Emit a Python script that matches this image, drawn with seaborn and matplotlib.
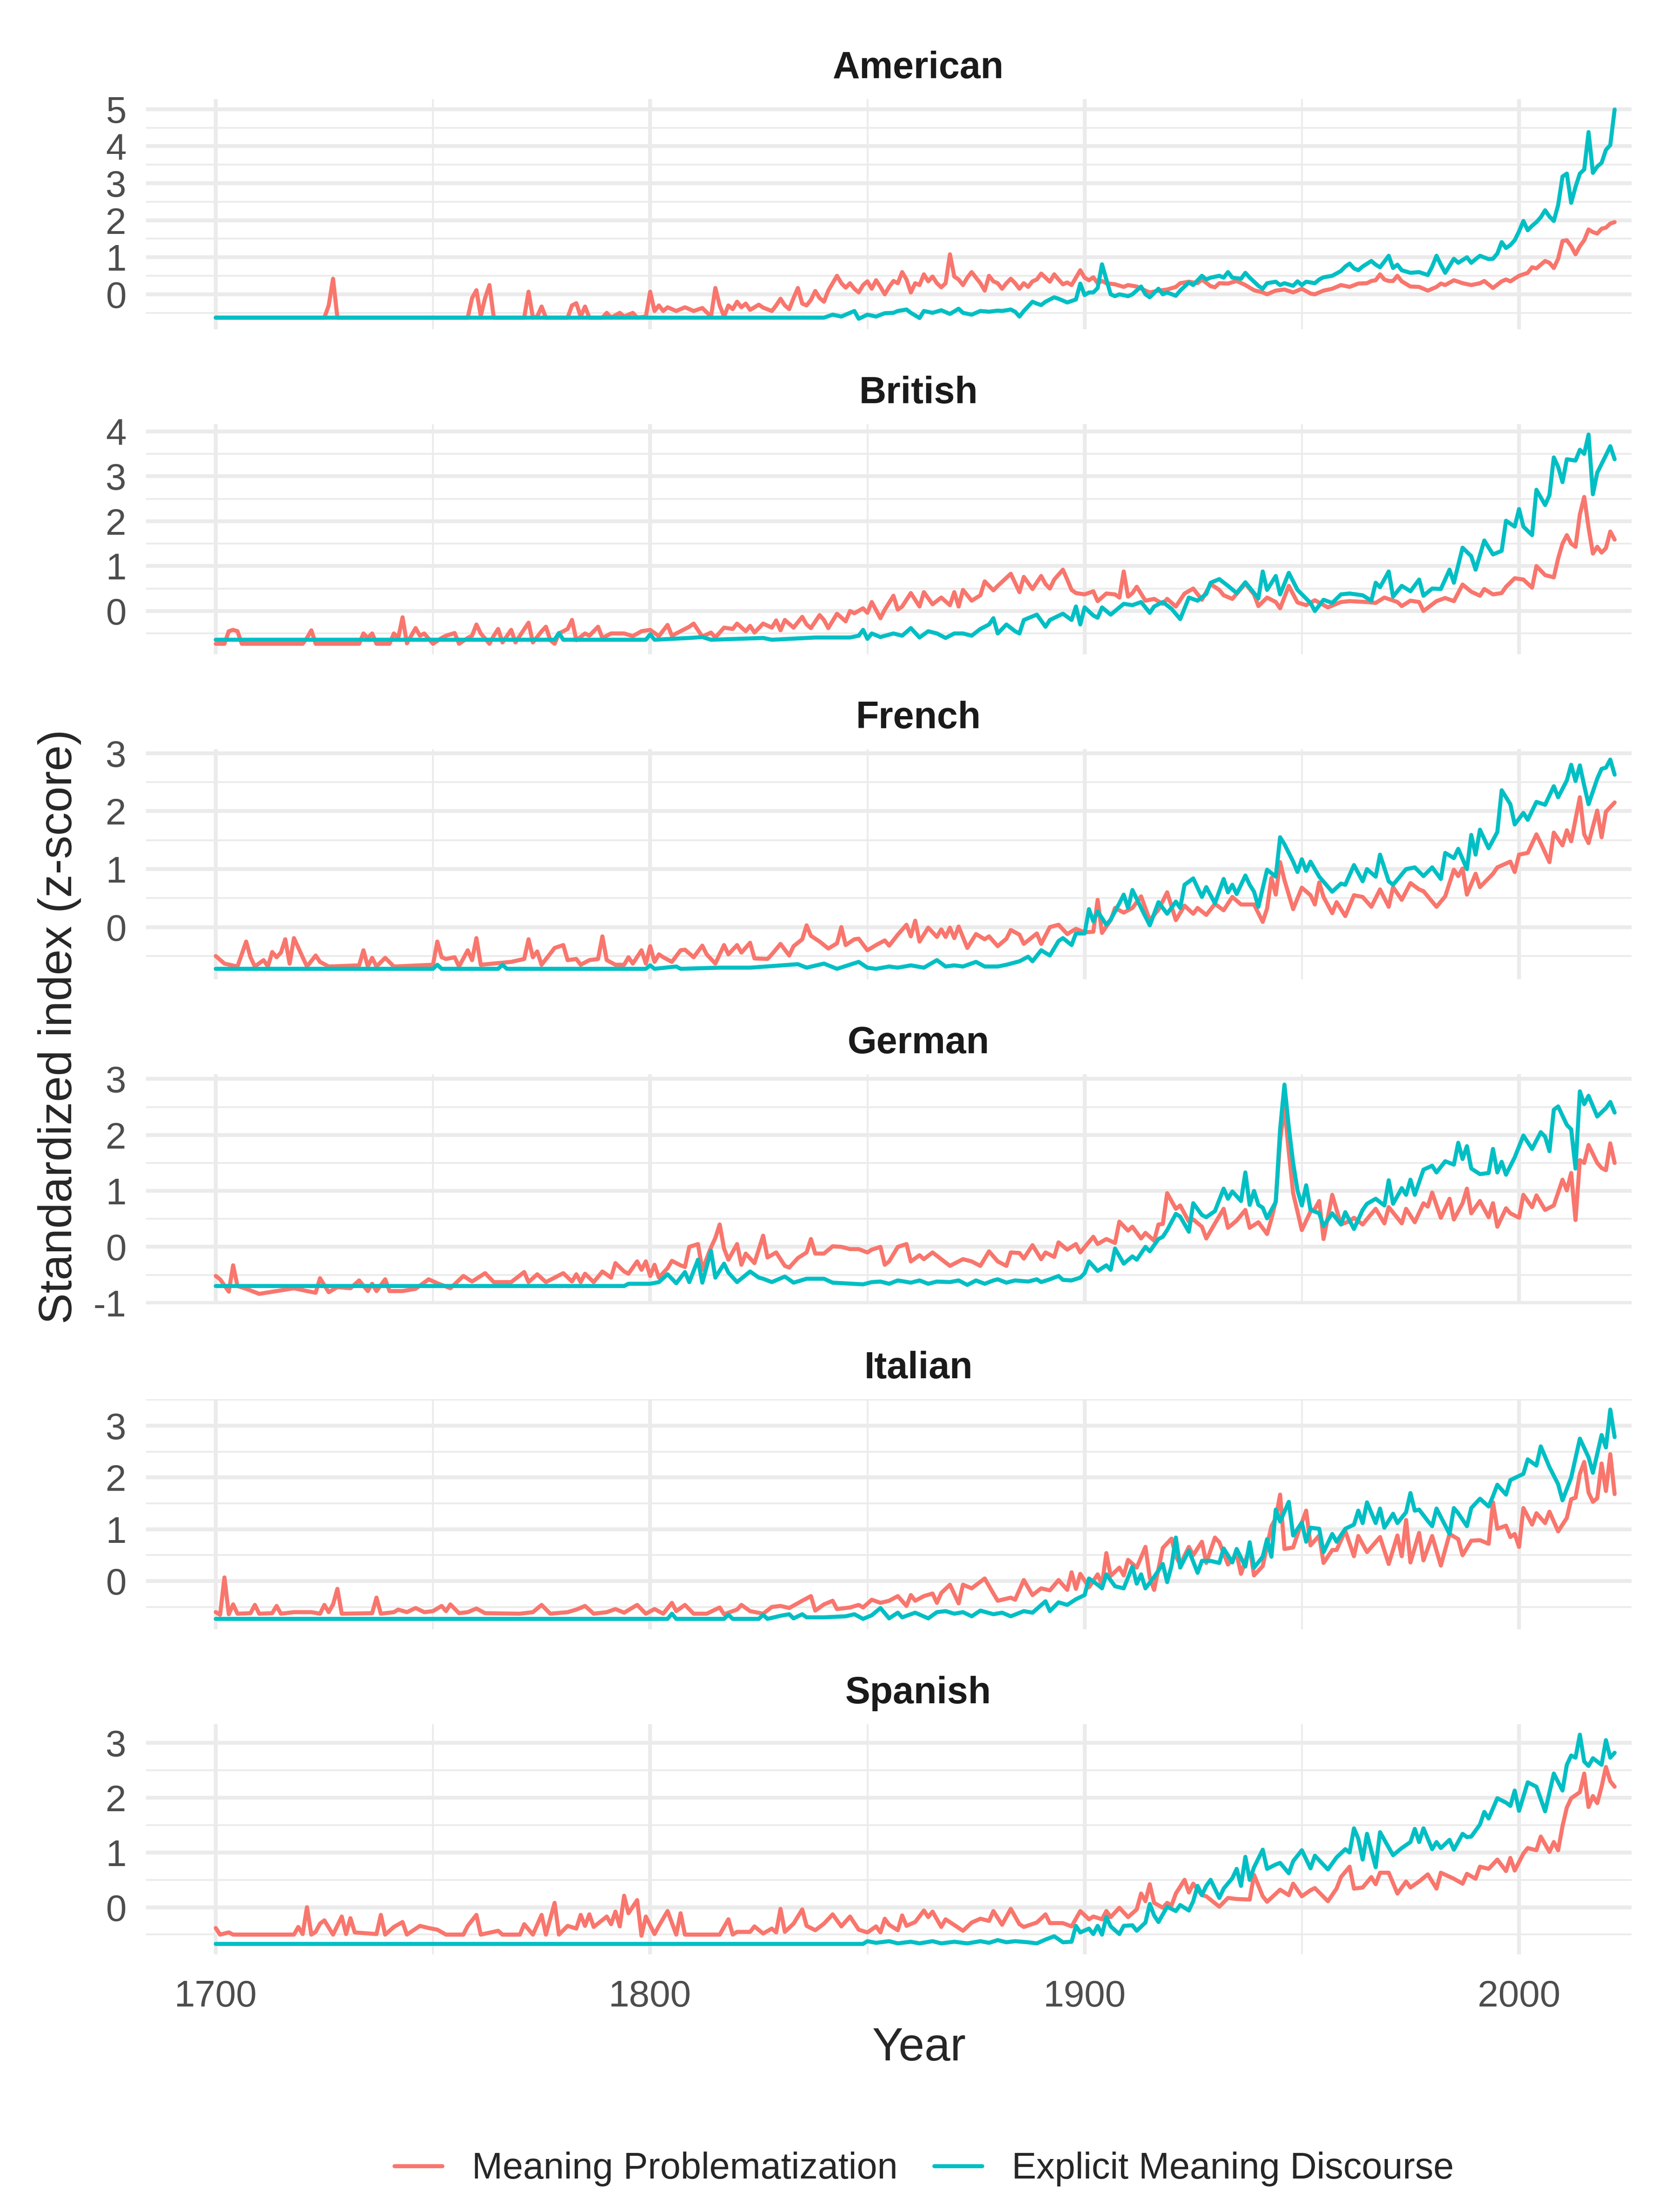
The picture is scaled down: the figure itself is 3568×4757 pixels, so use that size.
import matplotlib
matplotlib.use("Agg")
import matplotlib.pyplot as plt
from matplotlib.lines import Line2D
import pandas as pd
import seaborn as sns

# ── Canvas ────────────────────────────────────────────────────────────────────
W, H, DPI = 3568, 4757, 600

COUNTRIES = ["American", "British", "French", "German", "Italian", "Spanish"]
SERIES = ["Meaning Problematization", "Explicit Meaning Discourse"]
COLORS = ["#F8766D", "#00BFC4"]
X_TICKS = [1700, 1800, 1900, 2000]
X_MINOR = [1750, 1850, 1950]

# ── Data: (year, z-score) ────────────────────────────────────────────────────
AMERICAN_MP = [
    (1700, -0.63), (1725, -0.63), (1726, -0.3), (1727, 0.42), (1728, -0.63),
    (1758, -0.63), (1759, -0.1), (1760, 0.11), (1761, -0.58), (1762, -0.1),
    (1763, 0.25), (1764, -0.63), (1771, -0.63), (1772, 0.07), (1773, -0.63),
    (1774, -0.6), (1775, -0.33), (1776, -0.63), (1781, -0.63), (1782, -0.3),
    (1783, -0.24), (1784, -0.6), (1785, -0.33), (1786, -0.63), (1789, -0.63),
    (1790, -0.5), (1791, -0.63), (1793, -0.5), (1794, -0.6), (1796, -0.5),
    (1797, -0.63), (1799, -0.6), (1800, 0.07), (1801, -0.45), (1802, -0.3),
    (1803, -0.45), (1804, -0.35), (1806, -0.45), (1808, -0.35), (1810, -0.45),
    (1812, -0.37), (1814, -0.6), (1815, 0.17), (1816, -0.3), (1817, -0.6),
    (1818, -0.3), (1819, -0.4), (1820, -0.2), (1821, -0.35), (1822, -0.25),
    (1823, -0.42), (1825, -0.28), (1826, -0.36), (1828, -0.45), (1829, -0.3),
    (1830, -0.12), (1831, -0.3), (1832, -0.4), (1833, -0.1), (1834, 0.17),
    (1835, -0.25), (1836, -0.3), (1837, -0.15), (1838, 0.09), (1839, -0.1),
    (1840, -0.2), (1841, 0.1), (1842, 0.3), (1843, 0.5), (1844, 0.3),
    (1845, 0.18), (1846, 0.3), (1847, 0.15), (1848, 0.05), (1849, 0.25),
    (1850, 0.35), (1851, 0.15), (1852, 0.38), (1853, 0.2), (1854, 0.0),
    (1855, 0.2), (1856, 0.36), (1857, 0.3), (1858, 0.6), (1859, 0.4),
    (1860, 0.05), (1861, 0.3), (1862, 0.25), (1863, 0.54), (1864, 0.35),
    (1865, 0.48), (1866, 0.3), (1867, 0.19), (1868, 0.3), (1869, 1.08),
    (1870, 0.48), (1871, 0.4), (1872, 0.25), (1873, 0.45), (1874, 0.6),
    (1875, 0.45), (1876, 0.3), (1877, 0.1), (1878, 0.5), (1879, 0.35),
    (1880, 0.3), (1881, 0.15), (1882, 0.3), (1883, 0.42), (1884, 0.3),
    (1885, 0.15), (1886, 0.3), (1887, 0.2), (1888, 0.35), (1889, 0.4),
    (1890, 0.56), (1891, 0.45), (1892, 0.34), (1893, 0.54), (1894, 0.4),
    (1895, 0.27), (1896, 0.32), (1897, 0.25), (1898, 0.45), (1899, 0.65),
    (1900, 0.45), (1901, 0.38), (1902, 0.46), (1903, 0.3), (1904, 0.36),
    (1905, 0.3), (1907, 0.27), (1909, 0.2), (1910, 0.25), (1912, 0.21),
    (1914, 0.1), (1915, 0.05), (1917, 0.1), (1919, 0.13), (1921, 0.2),
    (1922, 0.3), (1924, 0.34), (1926, 0.3), (1927, 0.4), (1929, 0.22),
    (1930, 0.19), (1931, 0.3), (1933, 0.29), (1935, 0.36), (1937, 0.25),
    (1939, 0.11), (1941, 0.05), (1942, 0.0), (1944, 0.1), (1946, 0.13),
    (1948, 0.05), (1950, 0.15), (1952, 0.02), (1953, 0.0), (1955, 0.1),
    (1957, 0.15), (1959, 0.25), (1961, 0.2), (1963, 0.29), (1965, 0.3),
    (1966, 0.36), (1967, 0.38), (1968, 0.54), (1969, 0.4), (1970, 0.36),
    (1971, 0.36), (1972, 0.5), (1973, 0.35), (1975, 0.21), (1977, 0.2),
    (1979, 0.1), (1981, 0.2), (1982, 0.29), (1983, 0.25), (1985, 0.38),
    (1987, 0.3), (1989, 0.25), (1991, 0.3), (1992, 0.36), (1994, 0.17),
    (1996, 0.35), (1997, 0.4), (1998, 0.35), (2000, 0.5), (2002, 0.58),
    (2003, 0.73), (2004, 0.7), (2006, 0.9), (2007, 0.85), (2008, 0.71),
    (2009, 0.96), (2010, 1.44), (2011, 1.46), (2012, 1.3), (2013, 1.08),
    (2014, 1.3), (2015, 1.46), (2016, 1.75), (2017, 1.68), (2018, 1.64),
    (2019, 1.77), (2020, 1.8), (2021, 1.91), (2022, 1.95),
]
AMERICAN_ECD = [
    (1700, -0.63), (1840, -0.63), (1842, -0.55), (1844, -0.6), (1846, -0.5),
    (1847, -0.45), (1848, -0.66), (1850, -0.55), (1852, -0.6), (1854, -0.51),
    (1856, -0.5), (1857, -0.45), (1859, -0.41), (1860, -0.5), (1862, -0.64),
    (1863, -0.45), (1865, -0.5), (1867, -0.43), (1869, -0.53), (1871, -0.39),
    (1872, -0.5), (1874, -0.55), (1876, -0.45), (1878, -0.47), (1880, -0.44),
    (1881, -0.45), (1883, -0.41), (1884, -0.47), (1885, -0.6), (1886, -0.45),
    (1888, -0.2), (1889, -0.25), (1890, -0.29), (1891, -0.2), (1893, -0.08),
    (1894, -0.12), (1896, -0.22), (1897, -0.18), (1898, -0.14), (1899, 0.29),
    (1900, -0.02), (1901, 0.05), (1902, 0.05), (1903, 0.17), (1904, 0.81),
    (1905, 0.4), (1906, 0.0), (1907, -0.05), (1908, 0.0), (1910, -0.05),
    (1911, 0.0), (1913, 0.21), (1914, 0.0), (1915, -0.08), (1917, 0.15),
    (1918, 0.0), (1919, 0.05), (1921, -0.04), (1922, 0.1), (1924, 0.32),
    (1925, 0.25), (1927, 0.5), (1928, 0.4), (1929, 0.45), (1931, 0.5),
    (1932, 0.45), (1933, 0.6), (1934, 0.45), (1936, 0.42), (1937, 0.58),
    (1938, 0.45), (1940, 0.23), (1941, 0.15), (1942, 0.3), (1944, 0.34),
    (1945, 0.25), (1946, 0.3), (1948, 0.23), (1949, 0.35), (1950, 0.25),
    (1951, 0.34), (1953, 0.3), (1954, 0.4), (1955, 0.46), (1957, 0.5),
    (1959, 0.63), (1960, 0.75), (1961, 0.83), (1962, 0.7), (1963, 0.65),
    (1964, 0.75), (1966, 0.9), (1967, 0.8), (1968, 0.73), (1970, 1.04),
    (1971, 0.71), (1972, 0.8), (1973, 0.65), (1975, 0.58), (1977, 0.6),
    (1979, 0.52), (1980, 0.75), (1981, 1.04), (1982, 0.8), (1983, 0.58),
    (1985, 0.96), (1986, 0.85), (1988, 1.0), (1989, 0.85), (1990, 0.95),
    (1991, 1.04), (1993, 0.95), (1994, 0.96), (1995, 1.1), (1996, 1.41),
    (1997, 1.25), (1998, 1.33), (1999, 1.46), (2000, 1.7), (2001, 1.98),
    (2002, 1.73), (2003, 1.85), (2004, 1.95), (2005, 2.08), (2006, 2.27),
    (2007, 2.1), (2008, 1.98), (2009, 2.41), (2010, 3.18), (2011, 3.26),
    (2012, 2.47), (2013, 2.9), (2014, 3.26), (2015, 3.37), (2016, 4.38),
    (2017, 3.28), (2018, 3.45), (2019, 3.55), (2020, 3.9), (2021, 4.03),
    (2022, 4.99),
]

BRITISH_MP = [
    (1700, -0.73), (1702, -0.73), (1703, -0.45), (1704, -0.42), (1705, -0.45),
    (1706, -0.73), (1720, -0.73), (1721, -0.6), (1722, -0.43), (1723, -0.73),
    (1733, -0.73), (1734, -0.5), (1735, -0.6), (1736, -0.5), (1737, -0.73),
    (1740, -0.73), (1741, -0.5), (1742, -0.6), (1743, -0.14), (1744, -0.72),
    (1745, -0.55), (1746, -0.38), (1747, -0.55), (1748, -0.5), (1750, -0.73),
    (1752, -0.6), (1753, -0.55), (1755, -0.49), (1756, -0.73), (1758, -0.6),
    (1759, -0.55), (1760, -0.3), (1761, -0.5), (1763, -0.73), (1764, -0.55),
    (1765, -0.4), (1766, -0.7), (1768, -0.42), (1769, -0.7), (1770, -0.55),
    (1772, -0.26), (1773, -0.7), (1775, -0.45), (1776, -0.35), (1777, -0.65),
    (1778, -0.73), (1779, -0.5), (1781, -0.4), (1782, -0.2), (1783, -0.65),
    (1785, -0.5), (1786, -0.55), (1788, -0.35), (1789, -0.6), (1791, -0.5),
    (1794, -0.5), (1796, -0.56), (1798, -0.45), (1800, -0.42), (1802, -0.56),
    (1804, -0.31), (1805, -0.55), (1807, -0.45), (1809, -0.35), (1810, -0.28),
    (1812, -0.57), (1814, -0.48), (1815, -0.59), (1817, -0.37), (1819, -0.4),
    (1820, -0.28), (1822, -0.45), (1823, -0.33), (1824, -0.48), (1826, -0.28),
    (1828, -0.37), (1829, -0.21), (1830, -0.43), (1831, -0.2), (1833, -0.37),
    (1835, -0.13), (1836, -0.3), (1837, -0.38), (1839, -0.09), (1840, -0.2),
    (1841, -0.38), (1843, -0.06), (1845, -0.23), (1846, 0.0), (1847, -0.05),
    (1849, 0.06), (1850, -0.04), (1851, 0.2), (1853, -0.16), (1854, 0.03),
    (1856, 0.34), (1857, 0.03), (1858, 0.1), (1860, 0.4), (1862, 0.1),
    (1863, 0.42), (1865, 0.15), (1867, 0.3), (1869, 0.13), (1870, 0.42),
    (1871, 0.1), (1872, 0.47), (1874, 0.23), (1876, 0.35), (1877, 0.66),
    (1879, 0.46), (1880, 0.56), (1883, 0.83), (1885, 0.42), (1886, 0.76),
    (1888, 0.49), (1890, 0.78), (1891, 0.6), (1892, 0.5), (1893, 0.7),
    (1895, 0.92), (1896, 0.7), (1897, 0.47), (1898, 0.4), (1900, 0.37),
    (1902, 0.44), (1903, 0.22), (1905, 0.39), (1907, 0.37), (1908, 0.3),
    (1909, 0.88), (1910, 0.32), (1911, 0.4), (1912, 0.54), (1914, 0.23),
    (1916, 0.27), (1918, 0.16), (1919, 0.27), (1921, 0.1), (1923, 0.39),
    (1925, 0.5), (1927, 0.25), (1929, 0.6), (1931, 0.47), (1932, 0.35),
    (1934, 0.27), (1937, 0.61), (1939, 0.37), (1940, 0.11), (1942, 0.3),
    (1944, 0.2), (1945, 0.06), (1947, 0.56), (1949, 0.19), (1951, 0.13),
    (1953, 0.24), (1956, 0.08), (1959, 0.2), (1961, 0.22), (1965, 0.2),
    (1967, 0.18), (1969, 0.3), (1972, 0.2), (1973, 0.11), (1975, 0.23),
    (1977, 0.2), (1978, 0.0), (1981, 0.22), (1983, 0.29), (1985, 0.22),
    (1987, 0.59), (1989, 0.43), (1991, 0.34), (1992, 0.49), (1994, 0.37),
    (1996, 0.4), (1997, 0.54), (1999, 0.73), (2001, 0.7), (2003, 0.52),
    (2004, 1.0), (2006, 0.8), (2008, 0.75), (2009, 1.17), (2010, 1.5),
    (2011, 1.69), (2012, 1.5), (2013, 1.43), (2014, 2.15), (2015, 2.54),
    (2016, 1.86), (2017, 1.28), (2018, 1.43), (2019, 1.3), (2020, 1.4),
    (2021, 1.77), (2022, 1.59),
]
BRITISH_ECD = [
    (1700, -0.64), (1778, -0.64), (1779, -0.49), (1780, -0.64), (1799, -0.64),
    (1800, -0.52), (1801, -0.64), (1809, -0.6), (1812, -0.58), (1814, -0.64),
    (1826, -0.6), (1828, -0.64), (1838, -0.59), (1846, -0.59), (1848, -0.55),
    (1849, -0.42), (1850, -0.62), (1851, -0.5), (1853, -0.58), (1856, -0.5),
    (1858, -0.55), (1860, -0.38), (1862, -0.59), (1864, -0.45), (1866, -0.5),
    (1868, -0.6), (1870, -0.5), (1872, -0.5), (1874, -0.55), (1876, -0.4),
    (1878, -0.3), (1879, -0.16), (1880, -0.5), (1882, -0.3), (1884, -0.45),
    (1885, -0.5), (1886, -0.2), (1889, -0.08), (1891, -0.35), (1892, -0.2),
    (1895, -0.06), (1897, -0.2), (1898, 0.1), (1899, -0.3), (1900, 0.08),
    (1902, -0.1), (1903, -0.15), (1904, 0.08), (1906, -0.08), (1909, 0.16),
    (1911, 0.13), (1913, 0.2), (1915, -0.04), (1916, 0.1), (1918, 0.2),
    (1920, 0.05), (1922, -0.18), (1924, 0.3), (1926, 0.23), (1928, 0.38),
    (1929, 0.63), (1931, 0.71), (1933, 0.56), (1935, 0.4), (1937, 0.64),
    (1940, 0.28), (1941, 0.88), (1942, 0.47), (1944, 0.78), (1945, 0.37),
    (1947, 0.85), (1949, 0.47), (1952, 0.18), (1953, 0.0), (1955, 0.25),
    (1957, 0.18), (1959, 0.37), (1961, 0.39), (1964, 0.35), (1966, 0.23),
    (1967, 0.63), (1968, 0.53), (1970, 0.88), (1971, 0.32), (1973, 0.56),
    (1975, 0.44), (1977, 0.7), (1978, 0.34), (1980, 0.5), (1982, 0.49),
    (1984, 0.92), (1985, 0.63), (1987, 1.41), (1989, 1.22), (1990, 0.92),
    (1992, 1.57), (1994, 1.26), (1996, 1.34), (1997, 2.01), (1999, 1.88),
    (2000, 2.27), (2001, 1.88), (2003, 1.69), (2004, 2.7), (2006, 2.36),
    (2007, 2.58), (2008, 3.42), (2009, 3.21), (2010, 2.87), (2011, 3.38),
    (2013, 3.35), (2014, 3.59), (2015, 3.5), (2016, 3.93), (2017, 2.6),
    (2018, 3.08), (2020, 3.47), (2021, 3.67), (2022, 3.38),
]

FRENCH_MP = [
    (1700, -0.5), (1702, -0.63), (1705, -0.68), (1707, -0.25), (1708, -0.52),
    (1709, -0.68), (1711, -0.57), (1712, -0.68), (1713, -0.43), (1714, -0.52),
    (1715, -0.44), (1716, -0.21), (1717, -0.63), (1718, -0.19), (1720, -0.52),
    (1721, -0.68), (1723, -0.49), (1724, -0.6), (1726, -0.68), (1733, -0.66),
    (1734, -0.4), (1735, -0.68), (1736, -0.53), (1737, -0.68), (1739, -0.53),
    (1741, -0.68), (1750, -0.65), (1751, -0.25), (1752, -0.52), (1753, -0.55),
    (1755, -0.52), (1756, -0.68), (1758, -0.4), (1759, -0.57), (1760, -0.19),
    (1761, -0.65), (1768, -0.6), (1771, -0.55), (1772, -0.21), (1773, -0.52),
    (1774, -0.42), (1775, -0.65), (1778, -0.36), (1780, -0.31), (1781, -0.57),
    (1783, -0.55), (1784, -0.65), (1786, -0.57), (1788, -0.55), (1789, -0.16),
    (1790, -0.57), (1792, -0.65), (1794, -0.65), (1795, -0.52), (1796, -0.63),
    (1798, -0.4), (1799, -0.63), (1800, -0.33), (1801, -0.6), (1802, -0.47),
    (1803, -0.52), (1805, -0.6), (1807, -0.4), (1808, -0.39), (1810, -0.52),
    (1812, -0.32), (1813, -0.47), (1815, -0.63), (1817, -0.31), (1818, -0.47),
    (1820, -0.31), (1821, -0.44), (1823, -0.27), (1824, -0.54), (1827, -0.55),
    (1828, -0.47), (1830, -0.29), (1832, -0.49), (1833, -0.33), (1835, -0.21),
    (1836, 0.03), (1837, -0.15), (1839, -0.25), (1841, -0.37), (1843, -0.28),
    (1844, 0.0), (1845, -0.31), (1847, -0.21), (1848, -0.2), (1850, -0.4),
    (1852, -0.31), (1854, -0.23), (1855, -0.32), (1857, -0.13), (1859, 0.04),
    (1860, -0.16), (1861, 0.11), (1862, -0.25), (1864, -0.01), (1866, -0.17),
    (1867, -0.04), (1868, -0.17), (1869, -0.01), (1870, -0.19), (1871, 0.01),
    (1873, -0.36), (1875, -0.12), (1877, -0.21), (1878, -0.16), (1880, -0.33),
    (1882, -0.2), (1883, -0.05), (1885, -0.13), (1886, -0.29), (1889, -0.11),
    (1890, -0.29), (1892, 0.0), (1894, 0.04), (1896, -0.12), (1898, -0.03),
    (1900, -0.09), (1902, -0.08), (1903, 0.47), (1904, -0.1), (1906, 0.12),
    (1907, 0.33), (1909, 0.25), (1911, 0.33), (1913, 0.53), (1915, 0.12),
    (1917, 0.3), (1919, 0.6), (1921, 0.12), (1923, 0.37), (1925, 0.23),
    (1926, 0.33), (1928, 0.21), (1930, 0.4), (1932, 0.29), (1934, 0.52),
    (1936, 0.39), (1939, 0.39), (1941, 0.09), (1942, 0.32), (1943, 0.85),
    (1944, 0.56), (1945, 1.12), (1946, 0.81), (1948, 0.31), (1950, 0.68),
    (1952, 0.55), (1953, 0.39), (1954, 0.77), (1955, 0.52), (1957, 0.24),
    (1958, 0.43), (1960, 0.19), (1962, 0.55), (1964, 0.52), (1966, 0.35),
    (1968, 0.65), (1970, 0.35), (1971, 0.69), (1973, 0.47), (1975, 0.76),
    (1977, 0.65), (1978, 0.62), (1981, 0.35), (1983, 0.53), (1985, 0.99),
    (1986, 0.88), (1987, 1.01), (1988, 0.56), (1990, 0.92), (1991, 0.69),
    (1994, 0.92), (1995, 1.03), (1998, 1.13), (1999, 0.95), (2000, 1.25),
    (2002, 1.28), (2004, 1.6), (2005, 1.45), (2007, 1.12), (2008, 1.63),
    (2010, 1.41), (2011, 1.67), (2012, 1.48), (2014, 2.24), (2015, 1.6),
    (2016, 1.45), (2018, 2.01), (2019, 1.55), (2020, 1.99), (2022, 2.15),
]
FRENCH_ECD = [
    (1700, -0.72), (1750, -0.72), (1751, -0.65), (1752, -0.72), (1765, -0.72),
    (1766, -0.65), (1767, -0.72), (1799, -0.72), (1800, -0.66), (1801, -0.72),
    (1806, -0.68), (1807, -0.72), (1816, -0.7), (1823, -0.7), (1834, -0.64),
    (1836, -0.7), (1840, -0.63), (1843, -0.72), (1848, -0.6), (1850, -0.7),
    (1852, -0.72), (1855, -0.68), (1857, -0.7), (1860, -0.66), (1863, -0.7),
    (1866, -0.57), (1868, -0.68), (1870, -0.66), (1872, -0.68), (1875, -0.6),
    (1877, -0.68), (1880, -0.68), (1882, -0.65), (1885, -0.59), (1887, -0.51),
    (1888, -0.59), (1890, -0.4), (1892, -0.49), (1894, -0.24), (1895, -0.19),
    (1897, -0.31), (1898, -0.11), (1900, -0.11), (1901, 0.31), (1902, 0.1),
    (1903, 0.27), (1905, 0.04), (1906, 0.13), (1908, 0.41), (1909, 0.56),
    (1910, 0.33), (1911, 0.64), (1913, 0.33), (1915, 0.03), (1917, 0.43),
    (1919, 0.23), (1921, 0.44), (1922, 0.33), (1923, 0.73), (1925, 0.84),
    (1927, 0.52), (1928, 0.69), (1930, 0.41), (1932, 0.83), (1933, 0.6),
    (1934, 0.73), (1935, 0.57), (1937, 0.89), (1938, 0.73), (1939, 0.61),
    (1940, 0.35), (1942, 0.99), (1944, 0.87), (1945, 1.55), (1946, 1.43),
    (1948, 1.13), (1949, 0.95), (1950, 1.17), (1951, 0.97), (1952, 1.13),
    (1954, 0.87), (1957, 0.61), (1959, 0.75), (1960, 0.73), (1962, 1.07),
    (1964, 0.79), (1965, 1.0), (1967, 0.87), (1968, 1.25), (1970, 0.79),
    (1971, 0.73), (1974, 1.0), (1976, 1.03), (1978, 0.88), (1980, 1.03),
    (1982, 0.83), (1983, 1.28), (1985, 1.19), (1986, 1.35), (1988, 1.0),
    (1989, 1.59), (1990, 1.25), (1991, 1.68), (1993, 1.36), (1995, 1.64),
    (1996, 2.36), (1998, 2.12), (1999, 1.77), (2001, 1.97), (2002, 1.85),
    (2004, 2.16), (2006, 2.11), (2008, 2.43), (2009, 2.24), (2011, 2.53),
    (2012, 2.8), (2013, 2.52), (2014, 2.79), (2015, 2.44), (2016, 2.12),
    (2018, 2.56), (2019, 2.73), (2020, 2.75), (2021, 2.89), (2022, 2.63),
]

GERMAN_MP = [
    (1700, -0.52), (1701, -0.58), (1703, -0.8), (1704, -0.33), (1705, -0.7),
    (1707, -0.75), (1710, -0.84), (1714, -0.79), (1718, -0.74), (1721, -0.79),
    (1723, -0.82), (1724, -0.56), (1726, -0.81), (1728, -0.72), (1731, -0.74),
    (1733, -0.6), (1735, -0.79), (1736, -0.66), (1737, -0.79), (1739, -0.58),
    (1740, -0.79), (1743, -0.79), (1746, -0.75), (1749, -0.58), (1751, -0.65),
    (1754, -0.74), (1757, -0.52), (1759, -0.62), (1762, -0.47), (1764, -0.63),
    (1766, -0.63), (1768, -0.63), (1771, -0.45), (1772, -0.63), (1774, -0.49),
    (1776, -0.63), (1778, -0.55), (1780, -0.47), (1782, -0.62), (1783, -0.49),
    (1784, -0.63), (1785, -0.48), (1787, -0.63), (1789, -0.44), (1791, -0.55),
    (1792, -0.29), (1794, -0.44), (1795, -0.48), (1797, -0.26), (1798, -0.41),
    (1799, -0.26), (1800, -0.52), (1801, -0.32), (1802, -0.55), (1804, -0.38),
    (1805, -0.25), (1807, -0.33), (1808, -0.36), (1809, 0.0), (1811, 0.05),
    (1812, -0.41), (1814, -0.01), (1815, 0.16), (1816, 0.4), (1817, -0.03),
    (1818, -0.23), (1820, 0.05), (1821, -0.32), (1822, -0.12), (1824, -0.29),
    (1826, 0.2), (1827, -0.19), (1829, -0.1), (1831, -0.34), (1832, -0.37),
    (1834, -0.2), (1836, -0.1), (1837, 0.14), (1838, -0.12), (1840, -0.12),
    (1842, 0.01), (1844, 0.0), (1846, -0.04), (1848, -0.04), (1850, -0.1),
    (1851, -0.05), (1853, 0.0), (1854, -0.32), (1855, -0.26), (1857, 0.0),
    (1859, 0.05), (1860, -0.26), (1862, -0.15), (1863, -0.22), (1865, -0.1),
    (1869, -0.34), (1872, -0.22), (1874, -0.26), (1876, -0.34), (1878, -0.08),
    (1880, -0.26), (1882, -0.34), (1883, -0.1), (1885, -0.11), (1886, -0.21),
    (1888, 0.03), (1890, -0.22), (1891, -0.1), (1893, -0.18), (1894, 0.08),
    (1896, -0.05), (1898, 0.05), (1899, -0.1), (1902, 0.18), (1903, 0.05),
    (1905, 0.14), (1907, 0.07), (1908, 0.45), (1910, 0.29), (1911, 0.36),
    (1913, 0.15), (1914, 0.25), (1916, 0.11), (1917, 0.4), (1918, 0.41),
    (1919, 0.96), (1921, 0.68), (1922, 0.74), (1924, 0.45), (1925, 0.49),
    (1927, 0.36), (1928, 0.15), (1930, 0.42), (1932, 0.68), (1933, 0.34),
    (1935, 0.47), (1937, 0.66), (1938, 0.34), (1940, 0.44), (1942, 0.23),
    (1943, 0.5), (1944, 0.82), (1945, 1.9), (1946, 2.5), (1947, 1.7),
    (1948, 0.96), (1950, 0.3), (1952, 0.63), (1953, 0.68), (1954, 0.82),
    (1955, 0.14), (1957, 0.93), (1959, 0.4), (1961, 0.46), (1962, 0.52),
    (1964, 0.4), (1966, 0.59), (1967, 0.68), (1969, 0.42), (1970, 0.71),
    (1973, 0.42), (1974, 0.68), (1976, 0.44), (1978, 0.78), (1979, 0.72),
    (1980, 0.97), (1982, 0.52), (1984, 0.86), (1985, 0.49), (1987, 0.78),
    (1988, 1.04), (1989, 0.6), (1991, 0.82), (1993, 0.53), (1994, 0.78),
    (1995, 0.36), (1997, 0.69), (1998, 0.6), (2000, 0.52), (2001, 0.93),
    (2003, 0.71), (2004, 0.92), (2006, 0.66), (2008, 0.74), (2010, 1.2),
    (2011, 1.01), (2012, 1.32), (2013, 0.48), (2014, 1.55), (2015, 1.5),
    (2016, 1.82), (2018, 1.5), (2019, 1.41), (2020, 1.37), (2021, 1.85),
    (2022, 1.5),
]
GERMAN_ECD = [
    (1700, -0.7), (1794, -0.7), (1795, -0.66), (1800, -0.66), (1802, -0.63),
    (1804, -0.49), (1806, -0.65), (1808, -0.45), (1809, -0.63), (1811, -0.23),
    (1812, -0.64), (1814, -0.07), (1815, -0.55), (1817, -0.3), (1818, -0.46),
    (1820, -0.63), (1823, -0.44), (1825, -0.55), (1826, -0.57), (1828, -0.63),
    (1831, -0.53), (1833, -0.64), (1836, -0.57), (1840, -0.57), (1842, -0.64),
    (1849, -0.67), (1851, -0.63), (1853, -0.62), (1855, -0.66), (1857, -0.6),
    (1860, -0.64), (1862, -0.6), (1864, -0.66), (1866, -0.62), (1869, -0.63),
    (1871, -0.6), (1873, -0.68), (1875, -0.6), (1877, -0.66), (1879, -0.6),
    (1880, -0.58), (1882, -0.64), (1884, -0.6), (1887, -0.62), (1889, -0.58),
    (1890, -0.63), (1892, -0.58), (1894, -0.52), (1895, -0.59), (1897, -0.6),
    (1899, -0.55), (1900, -0.47), (1901, -0.26), (1903, -0.43), (1905, -0.33),
    (1906, -0.41), (1907, -0.03), (1909, -0.3), (1911, -0.17), (1912, -0.23),
    (1914, 0.0), (1915, -0.08), (1917, 0.14), (1918, 0.18), (1919, 0.3),
    (1921, 0.59), (1922, 0.54), (1924, 0.27), (1925, 0.78), (1927, 0.57),
    (1928, 0.53), (1930, 0.64), (1932, 1.04), (1933, 0.86), (1934, 0.99),
    (1936, 0.82), (1937, 1.33), (1938, 0.75), (1939, 1.0), (1940, 0.75),
    (1941, 0.7), (1942, 0.51), (1943, 0.66), (1944, 0.8), (1945, 2.1),
    (1946, 2.9), (1947, 2.14), (1948, 1.5), (1949, 1.01), (1950, 0.74),
    (1951, 1.1), (1952, 0.66), (1954, 0.6), (1955, 0.37), (1957, 0.6),
    (1959, 0.4), (1960, 0.62), (1962, 0.32), (1964, 0.66), (1965, 0.77),
    (1967, 0.86), (1969, 0.74), (1970, 1.19), (1971, 0.77), (1973, 1.05),
    (1974, 0.93), (1975, 1.2), (1976, 0.93), (1978, 1.38), (1980, 1.45),
    (1981, 1.33), (1983, 1.53), (1985, 1.47), (1986, 1.86), (1987, 1.57),
    (1988, 1.8), (1989, 1.4), (1991, 1.3), (1993, 1.32), (1994, 1.75),
    (1995, 1.33), (1996, 1.52), (1997, 1.29), (1999, 1.6), (2001, 1.99),
    (2003, 1.75), (2005, 2.05), (2006, 1.97), (2007, 1.71), (2008, 2.45),
    (2009, 2.51), (2011, 2.18), (2012, 2.1), (2013, 1.4), (2014, 2.78),
    (2015, 2.55), (2016, 2.7), (2018, 2.33), (2020, 2.48), (2021, 2.59),
    (2022, 2.4),
]

ITALIAN_MP = [
    (1700, -0.6), (1701, -0.65), (1702, 0.07), (1703, -0.64), (1704, -0.45),
    (1705, -0.63), (1708, -0.62), (1709, -0.46), (1710, -0.63), (1713, -0.62),
    (1714, -0.48), (1715, -0.63), (1718, -0.6), (1722, -0.6), (1724, -0.63),
    (1725, -0.46), (1726, -0.6), (1727, -0.45), (1728, -0.15), (1729, -0.63),
    (1736, -0.62), (1737, -0.32), (1738, -0.63), (1741, -0.6), (1742, -0.55),
    (1744, -0.6), (1746, -0.52), (1748, -0.6), (1750, -0.58), (1752, -0.48),
    (1753, -0.58), (1754, -0.45), (1756, -0.62), (1758, -0.6), (1760, -0.53),
    (1762, -0.62), (1770, -0.63), (1773, -0.6), (1774, -0.53), (1775, -0.46),
    (1777, -0.63), (1781, -0.6), (1783, -0.55), (1785, -0.48), (1787, -0.63),
    (1790, -0.6), (1792, -0.54), (1794, -0.61), (1797, -0.46), (1799, -0.63),
    (1801, -0.54), (1803, -0.63), (1805, -0.42), (1806, -0.58), (1808, -0.46),
    (1810, -0.63), (1813, -0.63), (1816, -0.51), (1817, -0.64), (1820, -0.55),
    (1821, -0.46), (1823, -0.58), (1826, -0.63), (1828, -0.5), (1830, -0.48),
    (1832, -0.52), (1835, -0.38), (1837, -0.29), (1838, -0.57), (1840, -0.45),
    (1842, -0.38), (1843, -0.54), (1846, -0.51), (1848, -0.46), (1849, -0.51),
    (1851, -0.36), (1853, -0.42), (1855, -0.38), (1857, -0.29), (1859, -0.48),
    (1860, -0.27), (1861, -0.38), (1863, -0.29), (1865, -0.24), (1866, -0.42),
    (1867, -0.23), (1869, -0.07), (1871, -0.43), (1872, -0.07), (1874, -0.14),
    (1877, 0.05), (1879, -0.24), (1880, -0.38), (1883, -0.32), (1884, -0.36),
    (1886, 0.02), (1888, -0.27), (1890, -0.14), (1892, -0.18), (1894, 0.02),
    (1896, -0.17), (1897, 0.17), (1898, -0.15), (1899, 0.14), (1901, -0.12),
    (1903, 0.13), (1904, -0.07), (1905, 0.54), (1906, 0.1), (1908, 0.26),
    (1909, 0.11), (1910, 0.41), (1912, 0.26), (1914, 0.66), (1915, 0.07),
    (1916, -0.17), (1918, 0.64), (1920, 0.82), (1921, 0.48), (1922, 0.32),
    (1924, 0.66), (1925, 0.5), (1927, 0.76), (1928, 0.35), (1930, 0.84),
    (1931, 0.75), (1933, 0.32), (1935, 0.52), (1936, 0.14), (1938, 0.64),
    (1939, 0.11), (1941, 0.29), (1942, 0.68), (1943, 1.06), (1944, 1.21),
    (1945, 1.67), (1946, 0.62), (1948, 0.65), (1949, 0.9), (1951, 1.36),
    (1952, 0.69), (1954, 0.88), (1955, 0.35), (1957, 0.6), (1958, 0.6),
    (1960, 0.97), (1962, 0.48), (1963, 0.87), (1965, 0.56), (1968, 0.85),
    (1970, 0.33), (1972, 0.88), (1973, 0.48), (1974, 1.18), (1975, 0.36),
    (1977, 0.93), (1978, 0.4), (1980, 0.87), (1982, 0.3), (1984, 0.91),
    (1986, 0.81), (1987, 0.5), (1989, 0.78), (1991, 0.79), (1993, 0.72),
    (1994, 1.52), (1995, 1.01), (1997, 1.07), (1998, 0.85), (1999, 0.91),
    (2000, 0.66), (2001, 1.41), (2003, 1.09), (2004, 1.31), (2006, 1.12),
    (2007, 1.34), (2008, 1.15), (2009, 0.96), (2011, 1.22), (2012, 1.58),
    (2013, 1.61), (2014, 2.07), (2015, 2.3), (2016, 1.71), (2017, 1.53),
    (2018, 1.6), (2019, 2.27), (2020, 1.74), (2021, 2.45), (2022, 1.68),
]
ITALIAN_ECD = [
    (1700, -0.73), (1804, -0.73), (1805, -0.63), (1806, -0.73), (1817, -0.73),
    (1818, -0.65), (1819, -0.73), (1825, -0.73), (1826, -0.65), (1827, -0.73),
    (1830, -0.67), (1832, -0.64), (1833, -0.72), (1835, -0.64), (1836, -0.7),
    (1840, -0.7), (1845, -0.68), (1847, -0.64), (1849, -0.73), (1851, -0.66),
    (1853, -0.52), (1855, -0.72), (1857, -0.61), (1858, -0.7), (1861, -0.61),
    (1864, -0.72), (1866, -0.6), (1868, -0.58), (1870, -0.63), (1872, -0.6),
    (1874, -0.68), (1876, -0.57), (1879, -0.64), (1881, -0.61), (1883, -0.68),
    (1886, -0.58), (1888, -0.61), (1891, -0.39), (1892, -0.58), (1894, -0.41),
    (1896, -0.46), (1898, -0.35), (1900, -0.27), (1901, 0.05), (1903, -0.07),
    (1904, -0.14), (1905, 0.13), (1907, -0.1), (1909, -0.14), (1911, 0.28),
    (1912, -0.05), (1913, 0.13), (1914, -0.14), (1916, 0.08), (1918, 0.33),
    (1919, -0.02), (1920, 0.29), (1921, 0.84), (1922, 0.26), (1924, 0.59),
    (1926, 0.16), (1927, 0.39), (1929, 0.39), (1931, 0.35), (1932, 0.63),
    (1934, 0.36), (1935, 0.62), (1937, 0.28), (1938, 0.75), (1939, 0.26),
    (1941, 0.47), (1942, 0.81), (1943, 0.47), (1944, 1.38), (1945, 1.15),
    (1947, 1.53), (1948, 0.88), (1950, 1.13), (1951, 0.76), (1952, 1.03),
    (1954, 1.01), (1955, 0.56), (1957, 0.91), (1958, 0.76), (1960, 1.01),
    (1962, 1.09), (1963, 1.36), (1964, 1.12), (1965, 1.52), (1967, 1.12),
    (1968, 1.4), (1969, 1.03), (1971, 1.3), (1972, 1.12), (1974, 1.33),
    (1975, 1.7), (1976, 1.36), (1977, 1.38), (1979, 1.16), (1980, 1.06),
    (1981, 1.4), (1984, 0.91), (1985, 1.41), (1986, 1.31), (1988, 1.06),
    (1989, 1.41), (1991, 1.59), (1993, 1.44), (1994, 1.64), (1995, 1.86),
    (1997, 1.67), (1998, 1.95), (2001, 2.07), (2002, 2.35), (2004, 2.23),
    (2005, 2.6), (2007, 2.2), (2009, 1.87), (2010, 1.56), (2012, 2.0),
    (2014, 2.75), (2016, 2.39), (2017, 2.09), (2019, 2.82), (2020, 2.58),
    (2021, 3.31), (2022, 2.78),
]

SPANISH_MP = [
    (1700, -0.38), (1701, -0.5), (1703, -0.46), (1704, -0.5), (1718, -0.5),
    (1719, -0.36), (1720, -0.49), (1721, 0.0), (1722, -0.5), (1723, -0.45),
    (1724, -0.3), (1725, -0.24), (1727, -0.5), (1729, -0.17), (1730, -0.49),
    (1731, -0.2), (1732, -0.46), (1737, -0.49), (1738, -0.14), (1739, -0.5),
    (1741, -0.36), (1743, -0.27), (1744, -0.5), (1747, -0.34), (1749, -0.38),
    (1751, -0.41), (1753, -0.5), (1757, -0.5), (1758, -0.34), (1760, -0.14),
    (1761, -0.5), (1765, -0.43), (1766, -0.5), (1770, -0.5), (1771, -0.31),
    (1773, -0.5), (1775, -0.14), (1776, -0.5), (1778, 0.08), (1779, -0.5),
    (1781, -0.34), (1783, -0.39), (1784, -0.14), (1785, -0.34), (1786, -0.13),
    (1787, -0.36), (1790, -0.17), (1791, -0.31), (1792, -0.08), (1793, -0.35),
    (1794, 0.21), (1795, -0.11), (1797, 0.13), (1798, -0.52), (1799, -0.17),
    (1801, -0.49), (1802, -0.34), (1804, -0.07), (1806, -0.5), (1807, -0.11),
    (1808, -0.5), (1816, -0.5), (1818, -0.22), (1819, -0.5), (1820, -0.45),
    (1823, -0.45), (1824, -0.35), (1826, -0.48), (1828, -0.39), (1829, -0.46),
    (1830, -0.03), (1831, -0.45), (1833, -0.3), (1835, -0.04), (1836, -0.34),
    (1838, -0.42), (1840, -0.3), (1842, -0.13), (1844, -0.35), (1846, -0.17),
    (1848, -0.41), (1850, -0.46), (1852, -0.35), (1853, -0.46), (1854, -0.21),
    (1855, -0.32), (1857, -0.42), (1858, -0.15), (1859, -0.34), (1861, -0.27),
    (1863, -0.06), (1864, -0.18), (1865, -0.08), (1867, -0.36), (1868, -0.22),
    (1872, -0.43), (1874, -0.28), (1876, -0.21), (1878, -0.25), (1879, -0.07),
    (1881, -0.32), (1883, -0.03), (1885, -0.31), (1886, -0.36), (1889, -0.28),
    (1891, -0.13), (1892, -0.29), (1895, -0.29), (1897, -0.35), (1899, -0.07),
    (1901, -0.22), (1902, -0.17), (1904, -0.22), (1905, -0.07), (1906, -0.18),
    (1908, -0.01), (1910, -0.18), (1912, -0.04), (1913, 0.25), (1914, 0.11),
    (1915, 0.42), (1916, 0.08), (1918, -0.01), (1919, 0.08), (1920, 0.03),
    (1921, 0.25), (1923, 0.5), (1924, 0.27), (1925, 0.43), (1927, 0.22),
    (1928, 0.2), (1931, 0.01), (1933, 0.17), (1935, 0.15), (1938, 0.14),
    (1939, 0.59), (1941, 0.2), (1942, 0.1), (1945, 0.32), (1947, 0.22),
    (1948, 0.43), (1950, 0.2), (1952, 0.31), (1953, 0.35), (1956, 0.11),
    (1958, 0.34), (1959, 0.55), (1961, 0.74), (1962, 0.34), (1964, 0.36),
    (1966, 0.55), (1967, 0.42), (1968, 0.63), (1970, 0.63), (1972, 0.25),
    (1974, 0.47), (1975, 0.36), (1977, 0.47), (1979, 0.6), (1981, 0.34),
    (1982, 0.63), (1985, 0.52), (1987, 0.43), (1988, 0.61), (1990, 0.52),
    (1991, 0.74), (1993, 0.7), (1995, 0.87), (1997, 0.66), (1998, 0.9),
    (1999, 0.67), (2001, 0.98), (2002, 1.08), (2004, 1.04), (2005, 1.29),
    (2007, 1.01), (2008, 1.19), (2009, 1.04), (2010, 1.48), (2011, 1.82),
    (2012, 1.99), (2014, 2.1), (2015, 2.44), (2016, 1.83), (2017, 2.03),
    (2018, 1.9), (2019, 2.2), (2020, 2.56), (2021, 2.3), (2022, 2.2),
]
SPANISH_ECD = [
    (1700, -0.67), (1849, -0.67), (1850, -0.62), (1852, -0.65), (1855, -0.62),
    (1857, -0.66), (1860, -0.63), (1862, -0.66), (1865, -0.62), (1867, -0.66),
    (1870, -0.63), (1873, -0.66), (1876, -0.62), (1878, -0.65), (1880, -0.6),
    (1882, -0.64), (1884, -0.62), (1887, -0.64), (1889, -0.66), (1891, -0.59),
    (1893, -0.53), (1895, -0.64), (1897, -0.63), (1898, -0.34), (1899, -0.46),
    (1901, -0.39), (1902, -0.49), (1903, -0.34), (1904, -0.5), (1905, -0.18),
    (1906, -0.35), (1908, -0.49), (1909, -0.34), (1911, -0.33), (1912, -0.43),
    (1914, -0.28), (1915, 0.06), (1916, -0.15), (1917, -0.27), (1919, 0.01),
    (1921, -0.07), (1922, 0.04), (1924, -0.06), (1925, 0.11), (1926, 0.39),
    (1927, 0.22), (1928, 0.39), (1929, 0.5), (1931, 0.17), (1932, 0.34),
    (1934, 0.53), (1935, 0.7), (1936, 0.39), (1937, 0.92), (1938, 0.5),
    (1939, 0.73), (1941, 1.05), (1942, 0.7), (1944, 0.78), (1945, 0.81),
    (1947, 0.62), (1948, 0.84), (1950, 1.04), (1952, 0.71), (1953, 0.94),
    (1956, 0.69), (1958, 0.91), (1960, 1.06), (1961, 1.0), (1962, 1.44),
    (1963, 1.25), (1964, 0.87), (1965, 1.34), (1967, 0.73), (1968, 1.37),
    (1970, 1.09), (1971, 0.95), (1973, 1.08), (1975, 1.19), (1976, 1.43),
    (1977, 1.19), (1978, 1.44), (1980, 1.06), (1981, 1.19), (1982, 1.08),
    (1984, 1.23), (1985, 1.05), (1987, 1.34), (1988, 1.28), (1989, 1.29),
    (1991, 1.51), (1992, 1.74), (1993, 1.62), (1995, 1.99), (1997, 1.91),
    (1998, 1.85), (1999, 2.13), (2000, 1.76), (2002, 2.28), (2004, 2.2),
    (2006, 1.75), (2008, 2.44), (2010, 2.13), (2011, 2.6), (2012, 2.77),
    (2013, 2.73), (2014, 3.15), (2015, 2.66), (2016, 2.58), (2017, 2.72),
    (2019, 2.6), (2020, 3.05), (2021, 2.73), (2022, 2.82),
]

PANELS = {
    "American": (AMERICAN_MP, AMERICAN_ECD),
    "British": (BRITISH_MP, BRITISH_ECD),
    "French": (FRENCH_MP, FRENCH_ECD),
    "German": (GERMAN_MP, GERMAN_ECD),
    "Italian": (ITALIAN_MP, ITALIAN_ECD),
    "Spanish": (SPANISH_MP, SPANISH_ECD),
}

# ── Long table for seaborn ────────────────────────────────────────────────────
rows = []
for country, pair in PANELS.items():
    for label, pts in zip(SERIES, pair):
        for year, val in pts:
            rows.append((country, label, year, val))
df = pd.DataFrame(rows, columns=["country", "index", "year", "value"])

# ── Style ─────────────────────────────────────────────────────────────────────
sns.set_style("white")
plt.rcParams["font.family"] = ["Liberation Sans", "DejaVu Sans"]
plt.rcParams["axes.unicode_minus"] = False

GRID = "#EBEBEB"
TICK_FS, STRIP_FS, TITLE_FS, LEGEND_FS = 9.6, 9.7, 12, 9.5
LINE_W = 1.05

fig = plt.figure(figsize=(W / DPI, H / DPI), dpi=DPI)

left, right = 313.6 / W, 3509 / W
panel_h, pitch, first_top = 495, 699, 213

for i, country in enumerate(COUNTRIES):
    top = first_top + pitch * i
    ax = fig.add_axes([left, 1 - (top + panel_h) / H, right - left, panel_h / H])
    sub = df[df["country"] == country]
    sns.lineplot(
        data=sub, x="year", y="value", hue="index", hue_order=SERIES,
        palette=COLORS, estimator=None, linewidth=LINE_W, legend=False, ax=ax,
    )
    ax.set_xlim(1683.9, 2025.9)
    ax.margins(y=0.05)
    ax.autoscale(axis="y")

    ax.set_xticks(X_TICKS)
    ax.set_xticks(X_MINOR, minor=True)
    lo, hi = ax.get_ylim()
    ax.set_yticks([v for v in range(-3, 8) if lo <= v <= hi])
    ax.set_yticks([v + 0.5 for v in range(-3, 8) if lo <= v + 0.5 <= hi], minor=True)
    ax.set_ylim(lo, hi)

    ax.set_axisbelow(True)
    ax.grid(True, which="major", color=GRID, linewidth=1.0)
    ax.grid(True, which="minor", color=GRID, linewidth=0.45)
    for s in ax.spines.values():
        s.set_visible(False)

    ax.tick_params(which="both", length=0)
    ax.tick_params(axis="y", labelsize=TICK_FS, labelcolor="#4D4D4D", pad=5.0)
    ax.tick_params(axis="x", labelsize=TICK_FS, labelcolor="#4D4D4D", pad=6.5)
    if i < len(COUNTRIES) - 1:
        ax.tick_params(axis="x", labelbottom=False)
    ax.set_xlabel("")
    ax.set_ylabel("")

    ax.text(0.520, 1 + 66 / panel_h, country, transform=ax.transAxes,
            ha="center", va="center", fontsize=STRIP_FS, fontweight="bold",
            color="#1A1A1A")

fig.text(0.554, 1 - 4405 / H, "Year", ha="center", va="center", fontsize=TITLE_FS)
fig.text(0.0359, 0.536, "Standardized index (z-score)", rotation=90,
         ha="center", va="center", fontsize=TITLE_FS)

handles = [Line2D([], [], color=c, linewidth=LINE_W) for c in COLORS]
fig.legend(handles, SERIES, loc="center", bbox_to_anchor=(0.557, 1 - 4665 / H),
           ncol=2, frameon=False, fontsize=LEGEND_FS, handlelength=1.3,
           handletextpad=0.8, columnspacing=1.0)

fig.savefig("out.png", dpi=DPI)
plt.close(fig)
